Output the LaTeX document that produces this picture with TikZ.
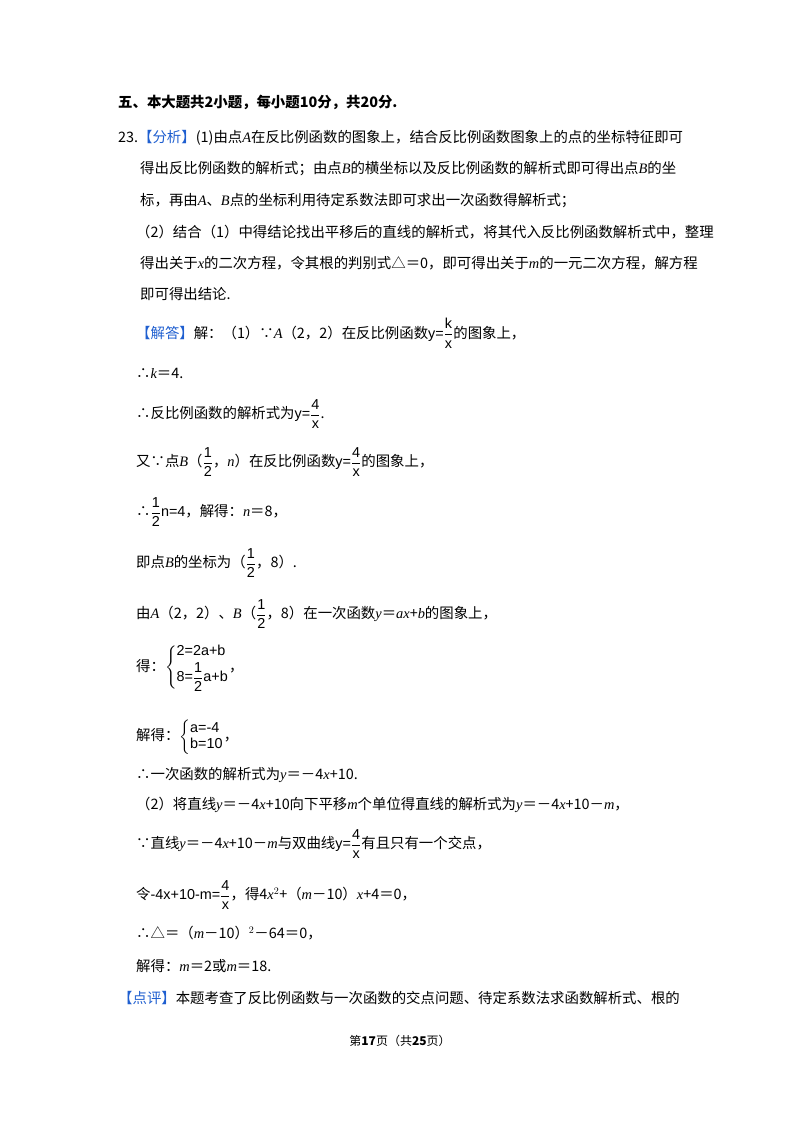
\documentclass[tikz,border=0pt]{standalone}
\usepackage{fontspec}
\usepackage{amsmath}
\setmainfont{Noto Sans CJK SC}
\newfontfamily\lib{Liberation Sans}
\newfontfamily\ser{Liberation Serif}
\definecolor{tagblue}{HTML}{1F5FD0}
\begin{document}
\begin{tikzpicture}[x=1pt,y=-1pt,
  ln/.style={anchor=west,inner sep=0pt,font=\fontsize{14.4}{16}\selectfont}]
\useasboundingbox (0,0) rectangle (800,1132);
\fill[white] (0,0) rectangle (800,1132);
\newcommand{\tg}[1]{\textcolor{tagblue}{【#1】}}
\newcommand{\vi}[1]{{\ser\itshape #1}}
\newcommand{\fr}[2]{\dfrac{\text{\lib #1}}{\text{\lib #2}}}
\node[ln,font=\fontsize{14.4}{16}\selectfont\bfseries] (l0) at (118,102) {五、本大题共2小题，每小题10分，共20分.};
\node[ln] (l1) at (118,138) {23.\tg{分析}(1)由点\vi{A}在反比例函数的图象上，结合反比例函数图象上的点的坐标特征即可};
\node[ln] (l2) at (140,169) {得出反比例函数的解析式；由点\vi{B}的横坐标以及反比例函数的解析式即可得出点\vi{B}的坐};
\node[ln] (l3) at (140,201) {标，再由\vi{A}、\vi{B}点的坐标利用待定系数法即可求出一次函数得解析式；};
\node[ln] (l4) at (136,232) {（2）结合（1）中得结论找出平移后的直线的解析式，将其代入反比例函数解析式中，整理};
\node[ln] (l5) at (140,263) {得出关于\vi{x}的二次方程，令其根的判别式△＝0，即可得出关于\vi{m}的一元二次方程，解方程};
\node[ln] (l6) at (140,294) {即可得出结论.};
\node[ln] (l7) at (136,333) {\tg{解答}解：（1）∵\vi{A}（2，2）在反比例函数{\lib y=}$\fr{k}{x}$的图象上，};
\node[ln] (l8) at (136,373) {∴\vi{k}＝4.};
\node[ln] (l9) at (136,414) {∴反比例函数的解析式为{\lib y=}$\fr{4}{x}$.};
\node[ln] (l10) at (136,462) {又∵点\vi{B}（$\fr{1}{2}$，\vi{n}）在反比例函数{\lib y=}$\fr{4}{x}$的图象上，};
\node[ln] (l11) at (136,512) {∴$\fr{1}{2}${\lib n=4}，解得：\vi{n}＝8，};
\node[ln] (l12) at (136,563) {即点\vi{B}的坐标为（$\fr{1}{2}$，8）.};
\node[ln] (l13) at (136,614) {由\vi{A}（2，2）、\vi{B}（$\fr{1}{2}$，8）在一次函数\vi{y}＝\vi{ax}+\vi{b}的图象上，};
\node[ln] (l14) at (136,668) {得：$\left\{\begin{array}{@{}l@{}}\text{\lib 2=2a+b}\\[2pt] \text{\lib 8=}\fr{1}{2}\text{\lib a+b}\end{array}\right.$，};
\node[ln] (l15) at (136,737) {解得：$\left\{\begin{array}{@{}l@{}}\text{\lib a=-4}\\ \text{\lib b=10}\end{array}\right.$，};
\node[ln] (l16) at (136,775) {∴一次函数的解析式为\vi{y}＝－4\vi{x}+10.};
\node[ln] (l17) at (136,805) {（2）将直线\vi{y}＝－4\vi{x}+10向下平移\vi{m}个单位得直线的解析式为\vi{y}＝－4\vi{x}+10－\vi{m}，};
\node[ln] (l18) at (136,844) {∵直线\vi{y}＝－4\vi{x}+10－\vi{m}与双曲线{\lib y=}$\fr{4}{x}$有且只有一个交点，};
\node[ln] (l19) at (136,895) {令{\lib -4x+10-m=}$\fr{4}{x}$，得4\vi{x}$^2$+（\vi{m}－10）\vi{x}+4＝0，};
\node[ln] (l20) at (136,933) {∴△＝（\vi{m}－10）$^2$－64＝0，};
\node[ln] (l21) at (136,966) {解得：\vi{m}＝2或\vi{m}＝18.};
\node[ln] (l22) at (118,998) {\tg{点评}本题考查了反比例函数与一次函数的交点问题、待定系数法求函数解析式、根的};
\node[inner sep=0pt,font=\fontsize{12}{14}\selectfont] (ft) at (400,1041) {第\textbf{17}页（共\textbf{25}页）};
\end{tikzpicture}
\end{document}
